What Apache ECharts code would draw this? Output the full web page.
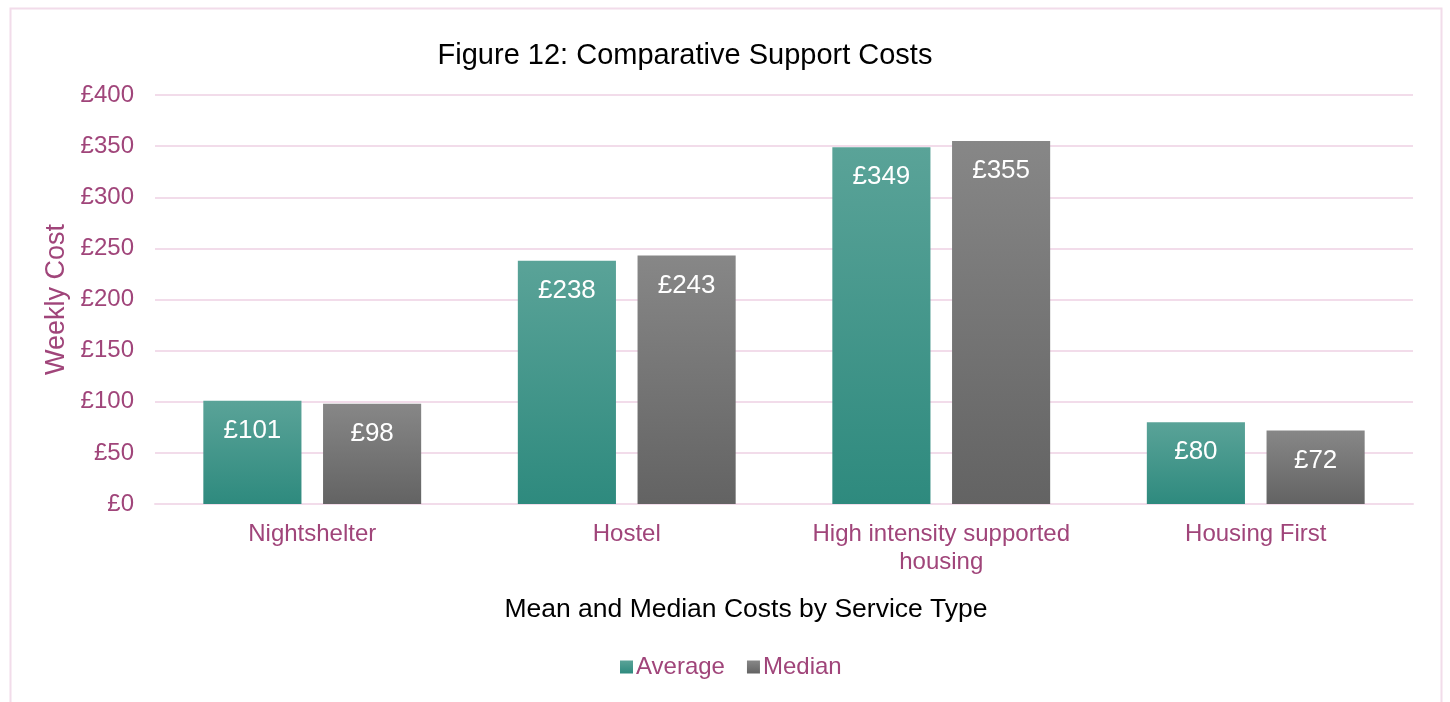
<!DOCTYPE html>
<html><head><meta charset="utf-8">
<script src="https://cdn.jsdelivr.net/npm/echarts@6/dist/echarts.min.js"></script>
<style>html,body{margin:0;padding:0;background:#fff}#c{width:1450px;height:702px}</style>
</head><body><div id="c"></div>
<script>
const categories = ['Nightshelter', 'Hostel', 'High intensity supported\nhousing', 'Housing First'];
const averageValues = [101, 238, 349, 80];
const medianValues = [98, 243, 355, 72];
const yTicks = [0, 50, 100, 150, 200, 250, 300, 350, 400];

const purple = '#a0457a';
const font = 'Liberation Sans, Arial, sans-serif';
const chart = echarts.init(document.getElementById('c'));
const grad = (a, b) => new echarts.graphic.LinearGradient(0, 0, 0, 1, [{offset: 0, color: a}, {offset: 1, color: b}]);
const lbl = {show: true, position: 'insideTop', distance: 17, color: '#fff', fontSize: 26, fontFamily: font, formatter: p => '£' + p.value};
chart.setOption({
  animation: false,
  textStyle: {fontFamily: font},
  graphic: [{type: 'rect', shape: {x: 10.5, y: 8.5, width: 1431, height: 720}, style: {fill: 'none', stroke: '#f2dcea', lineWidth: 2}, silent: true}],
  title: [
    {text: 'Figure 12: Comparative Support Costs', left: 680, top: 36, textAlign: 'center',
      textStyle: {fontSize: 29, fontWeight: 'normal', color: '#000', fontFamily: font}},
    {text: 'Mean and Median Costs by Service Type', left: 741, top: 591, textAlign: 'center',
      textStyle: {fontSize: 26.5, fontWeight: 'normal', color: '#000', fontFamily: font}}
  ],
  legend: {bottom: 18, left: 615, itemWidth: 13, itemHeight: 13, itemGap: 22,
    textStyle: {fontSize: 24, color: purple, fontFamily: font, padding: [0, 0, 0, -2]}, icon: 'rect'},
  grid: {left: 155, right: 37, top: 95, bottom: 198},
  xAxis: {type: 'category', data: categories,
    axisLine: {lineStyle: {color: '#f2dcea', width: 2}}, axisTick: {show: false},
    axisLabel: {interval: 0, fontSize: 24, color: purple, margin: 16, lineHeight: 28, fontFamily: font}},
  yAxis: {type: 'value', min: yTicks[0], max: yTicks[yTicks.length - 1], interval: 50,
    name: 'Weekly Cost', nameLocation: 'middle', nameGap: 78,
    nameTextStyle: {fontSize: 27, color: purple, fontFamily: font},
    axisLine: {show: false}, axisTick: {show: false},
    splitLine: {lineStyle: {color: '#f2dcea', width: 2}},
    axisLabel: {fontSize: 24, color: purple, margin: 21, formatter: v => '£' + v, fontFamily: font}},
  series: [
    {name: 'Average', type: 'bar', data: averageValues, barWidth: '31.2%', barGap: '22%',
      itemStyle: {color: grad('#5aa398', '#2e8a7e')}, label: lbl},
    {name: 'Median', type: 'bar', data: medianValues, barWidth: '31.2%',
      itemStyle: {color: grad('#878787', '#636363')}, label: lbl}
  ]
});
</script></body></html>
